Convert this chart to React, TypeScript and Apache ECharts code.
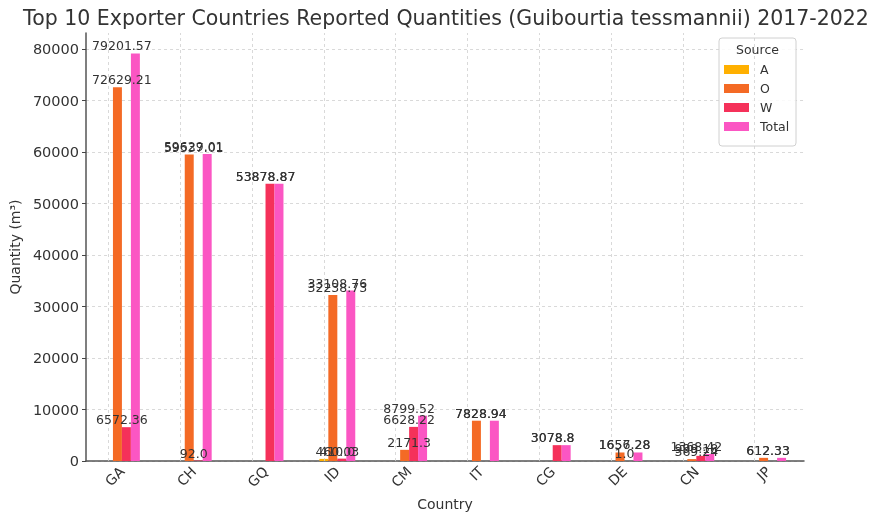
import React, { useEffect, useRef } from "react";
import * as echarts from "echarts";

const categories = ["GA", "CH", "GQ", "ID", "CM", "IT", "CG", "DE", "CN", "JP"];
const seriesNames = ["A", "O", "W", "Total"];
const valuesA = [0, 0, 0, 410.0, 0, 0, 0, 0, 0, 0];
const valuesO = [72629.21, 59537.01, 0, 32238.73, 2171.3, 7828.94, 0, 1656.28, 369.24, 612.33];
const valuesW = [6572.36, 92.0, 53878.87, 460.03, 6628.22, 0, 3078.8, 1.0, 999.18, 0];
const valuesTotal = [79201.57, 59629.01, 53878.87, 33108.76, 8799.52, 7828.94, 3078.8, 1657.28, 1368.42, 612.33];
const colors = ["#FFB000", "#F46A25", "#F5315A", "#FB56C3"];
const yTicks = [0, 10000, 20000, 30000, 40000, 50000, 60000, 70000, 80000];

const pyStr = (v: number) => (Number.isInteger(v) ? v.toFixed(1) : String(v));

export default function App() {
  const ref = useRef<HTMLDivElement>(null);
  useEffect(() => {
    if (!ref.current) return;
    const chart = echarts.init(ref.current, null, { renderer: "svg" });
    const all = [valuesA, valuesO, valuesW, valuesTotal];
    const yMax = Math.max(...valuesTotal) * 1.05;
    const font = "DejaVu Sans";
    const txt = "#333333";

    const barSeries = all.map((vals, i) => ({
      name: seriesNames[i],
      type: "bar",
      data: vals,
      barGap: "0%",
      barCategoryGap: "50%",
      itemStyle: { color: colors[i] },
      ...(i === 0
        ? {
            markLine: {
              silent: true,
              symbol: "none",
              label: { show: false },
              lineStyle: { color: "#cfcfcf", type: [3, 3], width: 0.8 },
              data: categories.map((c) => ({ xAxis: c })),
            },
          }
        : {}),
    }));

    const labelSeries = all.map((vals, i) => ({
      name: "lbl" + seriesNames[i],
      type: "scatter",
      symbolSize: 0,
      silent: true,
      z: 10,
      itemStyle: { opacity: 1 },
      data: vals
        .map((v, j) => [categories[j], v])
        .filter((d) => (d[1] as number) !== 0),
      label: {
        show: true,
        position: "top",
        distance: 1,
        color: txt,
        opacity: 1,
        fontFamily: font,
        fontSize: 12.5,
        formatter: (p: any) => pyStr(p.value[1]),
      },
    }));

    chart.setOption({
      animation: false,
      title: {
        text: "Top 10 Exporter Countries Reported Quantities (Guibourtia tessmannii) 2017-2022",
        left: 441,
        textAlign: "center",
        top: 2,
        textStyle: { fontFamily: font, fontSize: 20.5, fontWeight: "normal", color: txt },
      },
      legend: {
        data: seriesNames,
        orient: "vertical",
        left: 719,
        top: 58,
        itemWidth: 25,
        itemHeight: 9,
        itemGap: 6,
        icon: "rect",
        z: 10,
        textStyle: { fontFamily: font, fontSize: 12.5, color: txt, lineHeight: 10, padding: [0, 0, 0, 6] },
        selectedMode: false,
      },
      graphic: [
        {
          type: "rect",
          z: 3,
          shape: { x: 719, y: 38, width: 77, height: 108, r: 3 },
          style: { fill: "rgba(255,255,255,0.85)", stroke: "#d0d0d0", lineWidth: 1 },
        },
        {
          type: "text",
          z: 6,
          x: 757.5,
          y: 49,
          style: {
            text: "Source",
            fontFamily: font,
            fontSize: 12.5,
            fill: txt,
            align: "center",
            verticalAlign: "middle",
          },
        },
      ],
      grid: { left: 84, right: 68, top: 33, bottom: 55, containLabel: false },
      xAxis: {
        type: "category",
        data: categories,
        boundaryGap: true,
        name: "Country",
        nameLocation: "middle",
        nameGap: 36,
        nameTextStyle: { fontFamily: font, fontSize: 14, color: txt },
        axisLine: { lineStyle: { color: "#555555", width: 1.5 } },
        axisTick: { alignWithLabel: true, inside: true, length: 4, lineStyle: { color: "#444" } },
        axisLabel: { rotate: 45, fontFamily: font, fontSize: 14, color: txt, margin: 8 },
        splitLine: { show: false },
      },
      yAxis: {
        type: "value",
        min: 0,
        max: yMax,
        interval: 10000,
        name: "Quantity (m³)",
        nameLocation: "middle",
        nameGap: 60,
        nameTextStyle: { fontFamily: font, fontSize: 14, color: txt },
        axisLine: { show: true, lineStyle: { color: "#555555", width: 1.5 } },
        axisTick: { show: true, length: 4, lineStyle: { color: "#444" } },
        axisLabel: {
          fontFamily: font,
          fontSize: 14.5,
          color: txt,
          margin: 7,
          showMaxLabel: false,
          formatter: (v: number) => (yTicks.includes(v) ? String(v) : ""),
        },
        splitLine: { show: true, showMaxLine: false, lineStyle: { color: "#cfcfcf", type: [3, 3], width: 0.8 } },
      },
      series: [...barSeries, ...labelSeries],
    });
    return () => chart.dispose();
  }, []);
  return <div ref={ref} style={{ position: "fixed", left: 0, top: 0, width: 872, height: 516 }} />;
}
